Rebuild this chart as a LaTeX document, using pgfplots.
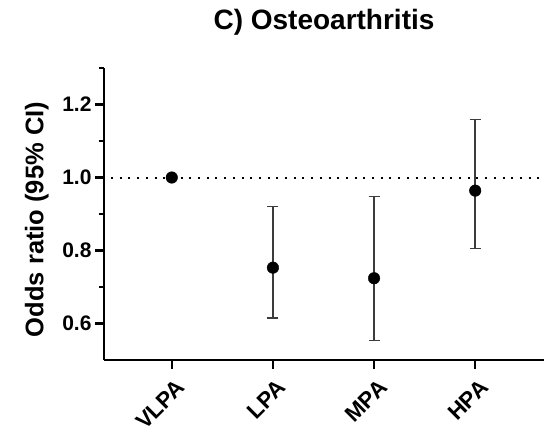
\documentclass[border=0pt]{standalone}
\usepackage{fontspec}
\setmainfont{Liberation Sans}
\usepackage{pgfplots}
\pgfplotsset{compat=1.18}
\definecolor{barcol}{RGB}{60,60,60}
\begin{document}
\begin{tikzpicture}
\useasboundingbox (0,0) rectangle (544pt,426pt);
\begin{axis}[
  at={(104pt,66pt)}, anchor=south west,
  scale only axis, width=440pt, height=292pt,
  xmin=-0.67, xmax=3.68, ymin=0.5, ymax=1.3,
  axis x line=bottom, axis y line=left,
  axis line style={-, line width=2.5pt, black},
  xtick={0,1,2,3}, xticklabels={VLPA,LPA,MPA,HPA},
  ytick={0.6,0.8,1.0,1.2}, minor ytick={0.7,0.9,1.1,1.3},
  tick align=outside, major tick length=9pt, minor tick length=5pt,
  every tick/.style={line width=2.5pt, black},
  /pgf/number format/assume math mode=true,
  yticklabel style={/pgf/number format/.cd, fixed, fixed zerofill, precision=1},
  ticklabel style={font=\fontsize{21}{21}\selectfont\bfseries},
  x tick label style={rotate=45, anchor=north east, inner sep=2pt, yshift=-7pt, xshift=-2pt, font=\fontsize{22.5}{22.5}\selectfont\bfseries},
  ylabel={Odds ratio (95\% CI)},
  ylabel style={at={(axis description cs:-0.138,0.481)}, anchor=base, rotate=0, font=\fontsize{25.5}{25.5}\selectfont\bfseries},
  clip=false,
]
\addplot[black, line width=2pt, dash pattern=on 2pt off 6.7pt, forget plot] coordinates {(-0.6,1) (3.68,1)};
\addplot[only marks, mark=*, mark size=5.8pt, black] coordinates {(0,1.0)};
\addplot[only marks, mark=*, mark size=5.8pt, black,
  error bars/.cd, y dir=both, y explicit,
  error bar style={line width=1.6pt, color=barcol},
  error mark options={rotate=90, line width=1.6pt, mark size=5.5pt, color=barcol}]
  coordinates {
    (1,0.753) += (0,0.168) -= (0,0.138)
    (2,0.724) += (0,0.224) -= (0,0.171)
    (3,0.964) += (0,0.195) -= (0,0.159)
  };
\end{axis}
\node[anchor=base, font=\fontsize{28}{28}\selectfont\bfseries] at (324pt,396pt) {C) Osteoarthritis};
\end{tikzpicture}
\end{document}
